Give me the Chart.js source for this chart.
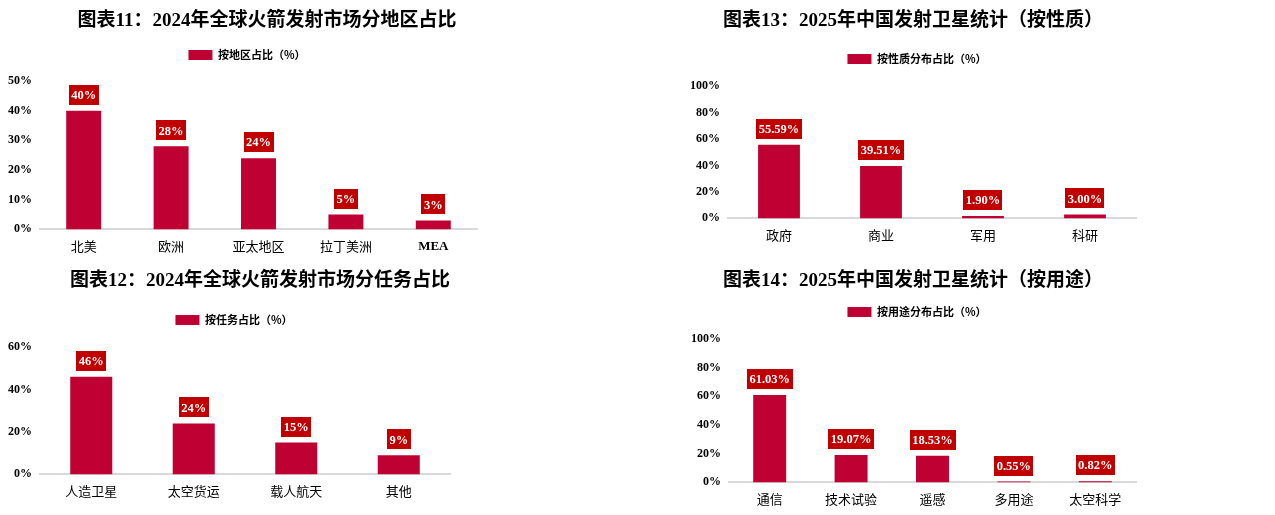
<!DOCTYPE html>
<html>
<head>
<meta charset="utf-8">
<script src="https://cdn.jsdelivr.net/npm/chart.js@4/dist/chart.umd.min.js"></script>
<style>
  body { margin: 0; background: #fff; width: 1275px; height: 515px; position: relative; overflow: hidden; }
  canvas { position: absolute; }
</style>
</head>
<body>
<canvas id="regionChart" width="640" height="258" style="left:0;top:0"></canvas>
<canvas id="natureChart" width="635" height="258" style="left:640px;top:0"></canvas>
<canvas id="missionChart" width="640" height="257" style="left:0;top:258px"></canvas>
<canvas id="useChart" width="635" height="257" style="left:640px;top:258px"></canvas>
<script>
// 图表11 按地区
const regionLabels = ['北美', '欧洲', '亚太地区', '拉丁美洲', 'MEA'];
const regionShare = [40, 28, 24, 5, 3];
// 图表12 按任务
const missionLabels = ['人造卫星', '太空货运', '载人航天', '其他'];
const missionShare = [46, 24, 15, 9];
// 图表13 按性质
const natureLabels = ['政府', '商业', '军用', '科研'];
const natureShare = [55.59, 39.51, 1.90, 3.00];
// 图表14 按用途
const useLabels = ['通信', '技术试验', '遥感', '多用途', '太空科学'];
const useShare = [61.03, 19.07, 18.53, 0.55, 0.82];

const BAR_COLOR = '#BE0032';
const BOX_COLOR = '#C00000';
const SERIF_CJK = "'Liberation Serif', 'Noto Sans CJK SC', serif";

// red boxes with white value text above each bar
const valueBoxes = {
    id: 'valueBoxes',
    afterDatasetsDraw(chart, args, opts) {
        const ctx = chart.ctx;
        const data = chart.data.datasets[0].data;
        ctx.save();
        ctx.font = "bold 12.5px 'Liberation Serif'";
        ctx.textAlign = 'center';
        ctx.textBaseline = 'middle';
        chart.getDatasetMeta(0).data.forEach((bar, i) => {
            const text = data[i].toFixed(opts.digits) + '%';
            const w = ctx.measureText(text).width + 5;
            const h = 20;
            const bottom = bar.y - 6;
            ctx.fillStyle = BOX_COLOR;
            ctx.fillRect(Math.round(bar.x - w / 2), Math.round(bottom - h), Math.round(w), h);
            ctx.fillStyle = '#fff';
            ctx.fillText(text, bar.x, bottom - h / 2 + 1);
        });
        ctx.restore();
    }
};

// move title / legend to their own horizontal centre
const centerBlocks = {
    id: 'centerBlocks',
    afterLayout(chart, args, opts) {
        [[chart.titleBlock, opts.titleX], [chart.legend, opts.legendX]].forEach(([b, cx]) => {
            if (!b || cx == null) return;
            const half = (b.right - b.left) / 2;
            b.left = cx - half;
            b.right = cx + half;
        });
    }
};

function createChart(id, labels, data, cfg) {
    new Chart(document.getElementById(id).getContext('2d'), {
        type: 'bar',
        data: {
            labels: labels,
            datasets: [{
                label: cfg.legend,
                data: data,
                backgroundColor: BAR_COLOR,
                borderWidth: 0,
                barPercentage: cfg.bar,
                categoryPercentage: 1
            }]
        },
        plugins: [valueBoxes, centerBlocks],
        options: {
            responsive: false,
            animation: false,
            layout: { padding: { left: 0, right: cfg.padRight, top: 0, bottom: cfg.padBottom } },
            plugins: {
                title: {
                    display: true,
                    text: cfg.title,
                    color: '#000',
                    font: { family: SERIF_CJK, size: 19, weight: 'bold', lineHeight: 1.2 },
                    padding: { top: cfg.titleTop, bottom: cfg.titleBottom }
                },
                // empty subtitle used as a gap between legend and plot
                subtitle: {
                    display: true,
                    text: '',
                    weight: 500,
                    font: { size: 1, lineHeight: 1 },
                    padding: { top: cfg.gap - 1, bottom: 0 }
                },
                legend: {
                    display: true,
                    labels: {
                        boxWidth: 24,
                        boxHeight: 10,
                        padding: 8,
                        color: '#000',
                        font: { family: "'Noto Sans CJK SC'", size: 11, weight: 'bold' }
                    }
                },
                tooltip: { enabled: false },
                valueBoxes: { digits: cfg.digits },
                centerBlocks: { titleX: cfg.titleX, legendX: cfg.legendX }
            },
            scales: {
                x: {
                    grid: { display: false, drawTicks: false },
                    border: { display: true, color: '#D9D9D9', width: 2 },
                    ticks: {
                        padding: 9,
                        color: '#000',
                        font: (c) => {
                            const lbl = c.tick ? labels[c.index] : '';
                            return /^[A-Za-z]+$/.test(lbl)
                                ? { family: "'Liberation Serif'", size: 13, weight: 'bold' }
                                : { family: "'Noto Sans CJK SC'", size: 13 };
                        }
                    }
                },
                y: {
                    min: 0,
                    max: cfg.max,
                    afterFit: (scale) => { scale.width = cfg.yWidth; },
                    grid: { display: false, drawTicks: false },
                    border: { display: false },
                    ticks: {
                        stepSize: cfg.step,
                        padding: 8,
                        color: '#000',
                        font: { family: "'Liberation Serif'", size: 12, weight: 'bold' },
                        callback: (v) => v + '%'
                    }
                }
            }
        }
    });
}

document.addEventListener('DOMContentLoaded', function () {
    createChart('regionChart', regionLabels, regionShare, {
        title: '图表11：2024年全球火箭发射市场分地区占比', legend: '按地区占比（%）',
        max: 50, step: 10, digits: 0, bar: 0.4,
        yWidth: 40, padRight: 163, padBottom: -5,
        titleTop: 9.6, titleBottom: 9.1, gap: 10.5, titleX: 267, legendX: 247
    });
    createChart('natureChart', natureLabels, natureShare, {
        title: '图表13：2025年中国发射卫星统计（按性质）', legend: '按性质分布占比（%）',
        max: 100, step: 20, digits: 2, bar: 0.41,
        yWidth: 88, padRight: 139, padBottom: 6,
        titleTop: 9.6, titleBottom: 13.1, gap: 11.5, titleX: 273, legendX: 277
    });
    createChart('missionChart', missionLabels, missionShare, {
        title: '图表12：2024年全球火箭发射市场分任务占比', legend: '按任务占比（%）',
        max: 60, step: 20, digits: 0, bar: 0.41,
        yWidth: 40, padRight: 190, padBottom: 7,
        titleTop: 11.6, titleBottom: 14.1, gap: 11.5, titleX: 260, legendX: 234
    });
    createChart('useChart', useLabels, useShare, {
        title: '图表14：2025年中国发射卫星统计（按用途）', legend: '按用途分布占比（%）',
        max: 100, step: 20, digits: 2, bar: 0.405,
        yWidth: 89, padRight: 139, padBottom: -1,
        titleTop: 11.6, titleBottom: 6.1, gap: 11.5, titleX: 273, legendX: 277
    });
});
</script>
</body>
</html>
